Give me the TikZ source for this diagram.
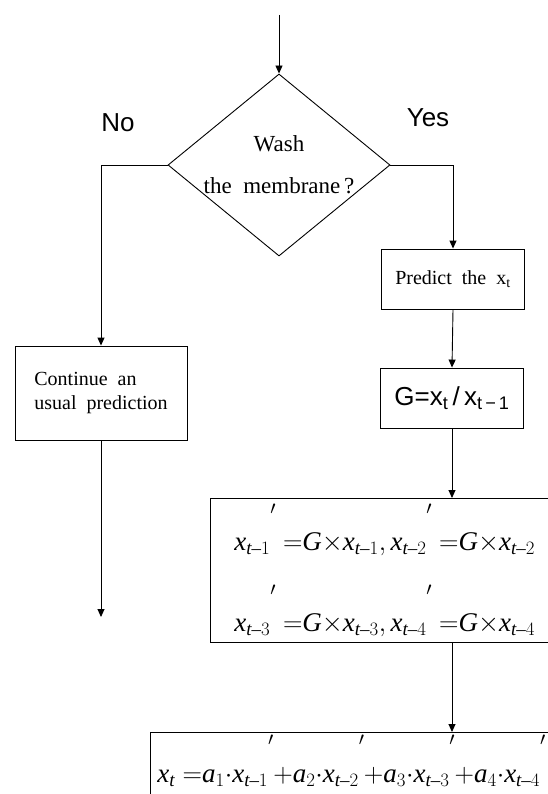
\documentclass[tikz,border=0pt]{standalone}
\usepackage{fix-cm}
\usepackage{amsmath}
\usepackage{fontspec}
\setmainfont{Liberation Serif}
\setsansfont{Liberation Sans}
\usetikzlibrary{shapes.geometric, arrows.meta, positioning}

\newcommand{\xsub}[1]{\textit{x}_{\textit{t}\text{--}#1}}
\newcommand{\xpri}[1]{\xsub{#1}\raisebox{1.35em}{$\scriptstyle\prime$}}

\begin{document}
\begin{tikzpicture}[
    x=1pt, y=-1pt,
    line width=0.9pt,
    every node/.style={align=center},
    decision/.style={diamond, draw=black, minimum width=222pt, minimum height=182pt, inner sep=0pt},
    stepbox/.style={rectangle, draw=black, minimum width=143pt, minimum height=60pt, font=\fontsize{20}{24}\selectfont},
    label/.style={font=\sffamily\fontsize{26}{30}\selectfont},
    formula/.style={rectangle, draw=black, align=left, anchor=north west, font=\fontsize{27}{33}\selectfont},
    arrow/.style={-{Triangle[length=8pt, width=7pt]}}
]
\useasboundingbox (0,0) rectangle (548,794);
\clip (0,0) rectangle (548,794);

% Decision
\coordinate (start) at (279,15);
\node[decision] (wash) at (279,165) {};
\node[font=\fontsize{23}{28}\selectfont] (washtext) at (wash.center) {Wash\\[14pt]the\ \ membrane\,?};
\node[label] (no) at (118,123) {No};
\node[label] (yes) at (428,118) {Yes};

% No branch
\node[stepbox, minimum width=172pt, minimum height=94pt, align=left] (usual) at (101,393) {Continue\ \ an\\usual\ \ prediction};
\coordinate (stop) at (101,617);

% Yes branch
\node[stepbox] (predict) at (453,279) {Predict\ \ the\ \ x\textsubscript{t}};
\node[stepbox, font=\sffamily\fontsize{26}{30}\selectfont] (ratio) at (452,398) {G=x\textsubscript{t}\,/\,x\textsubscript{t\,−\,1}};
\node[formula, minimum width=341pt, minimum height=144pt, inner xsep=24pt] (scaled) at (210,498)
    {$\xpri{1}\;{=}\textit{G}{\times}\xsub{1},\xpri{2}\;{=}\textit{G}{\times}\xsub{2}$\\[28pt]
     $\xpri{3}\;{=}\textit{G}{\times}\xsub{3},\xpri{4}\;{=}\textit{G}{\times}\xsub{4}$};
\node[formula, inner xsep=7pt, inner ysep=3pt, text depth=20pt] (model) at (150,732)
    {$\textit{x}_{\textit{t}}\;{=}\textit{a}_1{\cdot}\xpri{1}{+}\textit{a}_2{\cdot}\xpri{2}{+}\textit{a}_3{\cdot}\xpri{3}{+}\textit{a}_4{\cdot}\xpri{4}$};

% Arrows
\draw[arrow] (start) -- (wash.north);
\draw[arrow] (wash.west) -| (usual.north);
\draw[arrow] (wash.east) -| (predict.north);
\draw[arrow] (usual.south) -- (stop);
\draw[arrow] (predict.south) -- (ratio.north);
\draw[arrow] (ratio.south) -- (ratio.south |- scaled.north);
\draw[arrow] (ratio.south |- scaled.south) -- (ratio.south |- model.north);

\end{tikzpicture}
\end{document}
